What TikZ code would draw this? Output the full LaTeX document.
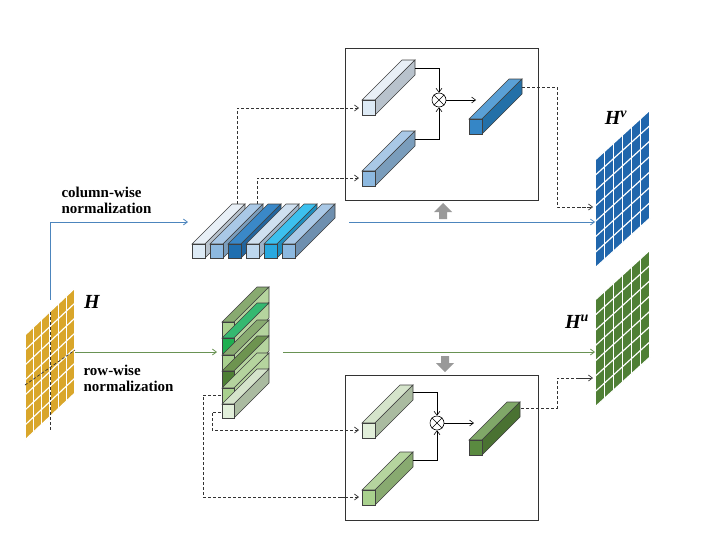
\documentclass[tikz,border=0pt]{standalone}
\usepackage{fontspec}
\setmainfont{Liberation Serif}
\usetikzlibrary{arrows.meta}
\definecolor{gy}{HTML}{D9A62A}
\definecolor{gb}{HTML}{2066AC}
\definecolor{gg}{HTML}{4F7F35}
\definecolor{b1f}{HTML}{DDEAF5}\definecolor{b1t}{HTML}{E8EFF6}\definecolor{b1s}{HTML}{B8C2CC}
\definecolor{b2f}{HTML}{8DB9E0}\definecolor{b2t}{HTML}{A9C8E6}\definecolor{b2s}{HTML}{7A9DBC}
\definecolor{b3f}{HTML}{1F6FB0}\definecolor{b3t}{HTML}{3A88C8}\definecolor{b3s}{HTML}{22659E}
\definecolor{b4f}{HTML}{BDD7EE}\definecolor{b4t}{HTML}{CFE0F0}\definecolor{b4s}{HTML}{9DB3C8}
\definecolor{b5f}{HTML}{29A9E0}\definecolor{b5t}{HTML}{3CC0EE}\definecolor{b5s}{HTML}{1F8FC0}
\definecolor{b6s}{HTML}{6E8FAF}
\definecolor{bof}{HTML}{3586C6}\definecolor{bot}{HTML}{5AA0D6}\definecolor{bos}{HTML}{2370A8}
\definecolor{g1f}{HTML}{A9D18E}\definecolor{g1t}{HTML}{88AA70}\definecolor{g1s}{HTML}{B5D49E}
\definecolor{g2f}{HTML}{1FAF50}\definecolor{g2t}{HTML}{35B870}
\definecolor{g4f}{HTML}{4E7F35}\definecolor{g4t}{HTML}{6E9450}
\definecolor{g6f}{HTML}{E2EFDA}\definecolor{g6t}{HTML}{D5E4CB}\definecolor{g6s}{HTML}{AABBA0}
\definecolor{gof}{HTML}{5A8A40}\definecolor{got}{HTML}{80A868}\definecolor{gos}{HTML}{4A7232}
\newcommand\mycube[8]{%
 \filldraw[cubeline,fill=#7] (#1,#2) -- ++(#5,-#5) -- ++(#3,0) -- ++(-#5,#5) -- cycle;
 \filldraw[cubeline,fill=#8] (#1+#3,#2) -- ++(#5,-#5) -- ++(0,#4) -- ++(-#5,#5) -- cycle;
 \filldraw[cubeline,fill=#6] (#1,#2) rectangle ++(#3,#4);}
\newcommand\mygrid[8]{% x0 y0 w h s ncol nrow color
 \fill[#8] (#1,#2) -- (#1+#3,#2-#5) -- (#1+#3,#2-#5+#4) -- (#1,#2+#4) -- cycle;
 \foreach \i in {1,...,#6}{\draw[white,line width=1.2pt] ({#1+\i*#3/#6},{#2-\i*#5/#6}) -- ++(0,#4);}
 \draw[white,line width=1.2pt] (#1,#2) -- ++(0,#4);
 \foreach \j in {0,...,#7}{\draw[white,line width=1.2pt] ({#1},{#2+\j*#4/#7}) -- ++(#3,-#5);}}
\tikzset{cubeline/.style={draw=black!75,line width=0.6pt},
 dsh/.style={densely dashed,line width=0.7pt,black!80},
 arr/.style={-{Straight Barb[length=4pt,width=6pt]}},
 lab/.style={font=\bfseries\fontsize{15}{16}\selectfont,align=left,anchor=west},
 big/.style={font=\bfseries\itshape\fontsize{20}{22}\selectfont},
 box/.style={draw=black!80,line width=0.8pt}}
\begin{document}
\begin{tikzpicture}[x=1pt,y=-1pt]
\useasboundingbox (0,0) rectangle (703,544);
% grids
\mygrid{25}{335}{50}{105}{47}{6}{7}{gy}
\draw[dsh] (50,312) -- (50,430);
\draw[dsh] (25,385) -- (75,350);
\mygrid{595}{160}{55}{108}{50}{6}{7}{gb}
\mygrid{595}{300}{55}{107}{50}{6}{7}{gg}
\node[big] (H) at (92,302) {H};
\node[big] (Hv) at (616,118) {H\textsuperscript{v}};
\node[big] (Hu) at (577,322) {H\textsuperscript{u}};
\node[lab] (cl) at (58,200) {column-wise\\normalization};
\node[lab] (rl) at (80,378) {row-wise\\normalization};
% blue main flow
\coordinate (bs) at (50,300);
\coordinate (bb) at (188,222);
\draw[arr,gb!80,line width=0.8pt] (bs) |- (bb);
\coordinate (gs) at (75,352);
\coordinate (gbb) at (217,352);
\draw[arr,gg!85,line width=0.8pt] (gs) -- (gbb);
% dashed inputs from blue row
\draw[dsh] (237,204) |- (345,108);
\draw[dsh,arr] (340,108) -- (359,108);
\draw[dsh] (257,204) |- (345,178);
\draw[dsh,arr] (340,178) -- (359,178);
% blue bars
\mycube{192}{244}{13}{14}{40}{b1f}{b1t}{b1s}
\mycube{210}{244}{13}{14}{40}{b2f}{b2t}{b2s}
\mycube{228}{244}{13}{14}{40}{b3f}{b3t}{b3s}
\mycube{246}{244}{13}{14}{40}{b4f}{b4t}{b4s}
\mycube{264}{244}{13}{14}{40}{b5f}{b5t}{b5s}
\mycube{282}{244}{13}{14}{40}{b2f}{b2t}{b6s}
\draw[arr,gb!80,line width=0.8pt] (349,222) -- (595,222);
\fill[gray!80] (443,203) -- (452,212) -- (447,212) -- (447,219) -- (439,219) -- (439,212) -- (434,212) -- cycle;
% top box
\draw[box] (345,48) rectangle (538,200);
\mycube{362}{100}{13}{15}{40}{b1f}{b1t}{b1s}
\mycube{362}{171}{13}{15}{40}{b2f}{b2t}{b2s}
\mycube{469}{119}{13}{15}{40}{bof}{bot}{bos}
\node[draw,circle,inner sep=0pt,minimum size=14pt,line width=0.6pt] (m1) at (439,100) {};
\draw (m1.45)--(m1.225) (m1.135)--(m1.315);
\draw[arr,line width=0.6pt] (415,68) -| (m1.north);
\draw[arr,line width=0.6pt] (415,139) -| (m1.south);
\draw[arr,line width=0.6pt] (m1.east) -- (476,100);
\draw[dsh] (522,87) -- (557,87) |- (590,207);
\draw[dsh,arr] (578,207) -- (593,207);
% green bars
\mycube{222}{322}{12}{15}{35}{g1f}{g1t}{g1s}
\mycube{222}{338}{12}{15}{35}{g2f}{g2t}{g1s}
\mycube{222}{355}{12}{15}{35}{g1f}{g1t}{g1s}
\mycube{222}{371}{12}{15}{35}{g4f}{g4t}{g1s}
\mycube{222}{388}{12}{15}{35}{g1f}{g1s}{g1s}
\mycube{222}{404}{12}{14}{35}{g6f}{g6t}{g6s}
\draw[dsh] (221,395) -- (203,395) |- (345,497);
\draw[dsh,arr] (340,497) -- (359,497);
\draw[dsh] (221,412) -- (212,412) |- (345,430);
\draw[dsh,arr] (340,430) -- (359,430);
\draw[arr,gg!85,line width=0.8pt] (283,352) -- (595,352);
\fill[gray!80] (445,372) -- (454,363) -- (449,363) -- (449,356) -- (441,356) -- (441,363) -- (436,363) -- cycle;
% bottom box
\draw[box] (345,375) rectangle (538,520);
\mycube{362}{423}{13}{15}{38}{g6f}{g6t}{g6s}
\mycube{362}{490}{13}{15}{38}{g1f}{g1s}{g1t}
\mycube{469}{440}{13}{15}{38}{gof}{got}{gos}
\node[draw,circle,inner sep=0pt,minimum size=14pt,line width=0.6pt] (m2) at (437,423) {};
\draw (m2.45)--(m2.225) (m2.135)--(m2.315);
\draw[arr,line width=0.6pt] (413,392) -| (m2.north);
\draw[arr,line width=0.6pt] (413,460) -| (m2.south);
\draw[arr,line width=0.6pt] (m2.east) -- (474,423);
\draw[dsh] (521,408) -- (557,408) |- (590,378);
\draw[dsh,arr] (578,378) -- (593,378);
\end{tikzpicture}
\end{document}
